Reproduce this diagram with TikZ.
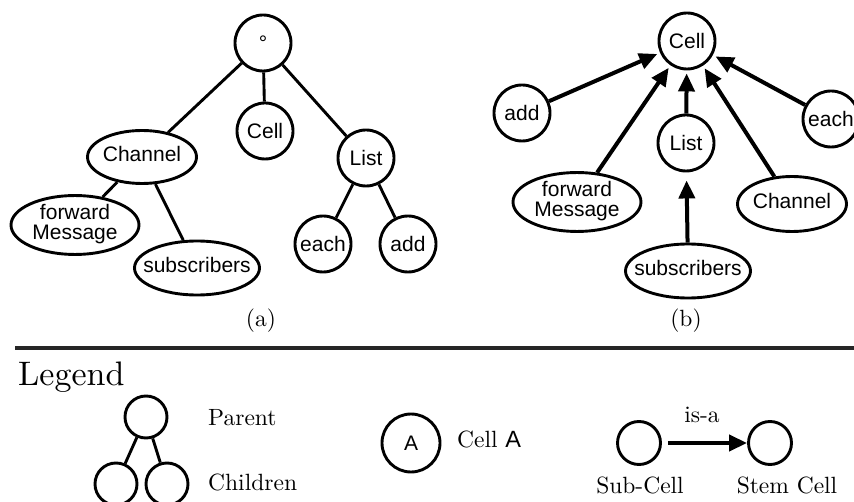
\documentclass[tikz,border=0pt]{standalone}
\usepackage{fontspec}
\setmainfont{lmroman10-regular.otf}
\newfontfamily\nodefont{Liberation Sans}
\usetikzlibrary{shapes.geometric,arrows.meta}
% text of an oval node: zero width so the oval keeps its own size
\newcommand\ovaltext[1]{\makebox[0pt]{\begin{tabular}{@{}c@{}}#1\end{tabular}}}
\begin{document}
\begin{tikzpicture}[x=1pt,y=-1pt,
  cellnode/.style={circle,draw,line width=2.9pt,minimum size=56pt,inner sep=0pt,
    font=\nodefont\fontsize{21}{21}\selectfont},
  ovalnode/.style={ellipse,draw,line width=2.9pt,inner sep=0pt,
    font=\nodefont\fontsize{21}{20}\selectfont},
  tie/.style={line width=2.9pt},
  isa/.style={line width=4pt,-{Triangle[length=18pt,width=16pt]},shorten >=3pt},
  serif/.style={font=\fontsize{23.5}{23.5}\selectfont},
  smallcirc/.style={circle,draw,line width=2.9pt,minimum size=42pt,inner sep=0pt}]
\useasboundingbox (0,0) rectangle (854,502);

% ---- (a) containment tree ----
\node[cellnode] (aroot) at (263,43) {°};
\node[cellnode] (acell) at (265,131) {Cell};
\node[ovalnode,minimum width=109pt,minimum height=53pt] (achan) at (142,157) {\ovaltext{Channel}};
\node[cellnode] (alist) at (366,158) {List};
\node[ovalnode,minimum width=128pt,minimum height=56pt] (afwd) at (75,225) {\ovaltext{forward\\Message}};
\node[ovalnode,minimum width=125pt,minimum height=54pt] (asub) at (197,268) {\ovaltext{subscribers}};
\node[cellnode] (aeach) at (323,244) {each};
\node[cellnode] (aadd) at (408,244) {add};
\draw[tie] (aroot) -- (achan);
\draw[tie] (aroot) -- (acell);
\draw[tie] (aroot) -- (alist);
\draw[tie] (achan) -- (afwd);
\draw[tie] (achan) -- (asub);
\draw[tie] (alist) -- (aeach);
\draw[tie] (alist) -- (aadd);
\node[serif] (alab) at (261,321) {(a)};

% ---- (b) is-a hierarchy ----
\node[cellnode] (bcell) at (687,41) {Cell};
\node[cellnode] (badd) at (522,113) {add};
\node[cellnode] (beach) at (831,119) {each};
\node[cellnode] (blist) at (686,143) {List};
\node[ovalnode,minimum width=128pt,minimum height=56pt] (bfwd) at (577,202) {\ovaltext{forward\\Message}};
\node[ovalnode,minimum width=109pt,minimum height=55pt] (bchan) at (792,204) {\ovaltext{Channel}};
\node[ovalnode,minimum width=125pt,minimum height=54pt] (bsub) at (688,271) {\ovaltext{subscribers}};
\draw[isa] (badd) -- (bcell);
\draw[isa] (bfwd) -- (bcell);
\draw[isa] (blist) -- (bcell);
\draw[isa] (bchan) -- (bcell);
\draw[isa] (beach) -- (bcell);
\draw[isa,shorten >=8pt] (bsub) -- (blist);
\node[serif] (blab) at (686,321) {(b)};

% ---- separator ----
\coordinate (ruleL) at (15,348);
\coordinate (ruleR) at (854,348);
\draw[line width=3.2pt,black!85] (ruleL) -- (ruleR);

% ---- legend ----
\node[anchor=base west,font=\fontsize{34}{34}\selectfont,inner sep=0pt] (legend) at (18,385) {Legend};
\node[smallcirc] (lpar) at (146,417) {};
\node[smallcirc] (lchl) at (116,484) {};
\node[smallcirc] (lchr) at (167,484) {};
\draw[tie] (lpar) -- (lchl);
\draw[tie] (lpar) -- (lchr);
\node[serif,anchor=base west,inner sep=0pt] (lpartxt) at (208,425) {Parent};
\node[serif,anchor=base west,inner sep=0pt] (lchtxt) at (208,490) {Children};

\node[cellnode,minimum size=58pt] (lcella) at (411,443) {A};
\node[serif,anchor=base west,inner sep=0pt] (lcelltxt) at (457,447) {Cell {\nodefont A}};

\node[smallcirc,minimum size=43pt] (lsub) at (639,443) {};
\node[smallcirc,minimum size=43pt] (lstem) at (770,443) {};
\draw[isa,shorten <=6pt,shorten >=0pt] (lsub) -- (lstem);
\node[serif,anchor=base,inner sep=0pt] (lisa) at (702,422) {is-a};
\node[serif,anchor=base,inner sep=0pt] (lsubtxt) at (640,493) {Sub-Cell};
\node[serif,anchor=base,inner sep=0pt] (lstemtxt) at (787,493) {Stem Cell};
\end{tikzpicture}
\end{document}
